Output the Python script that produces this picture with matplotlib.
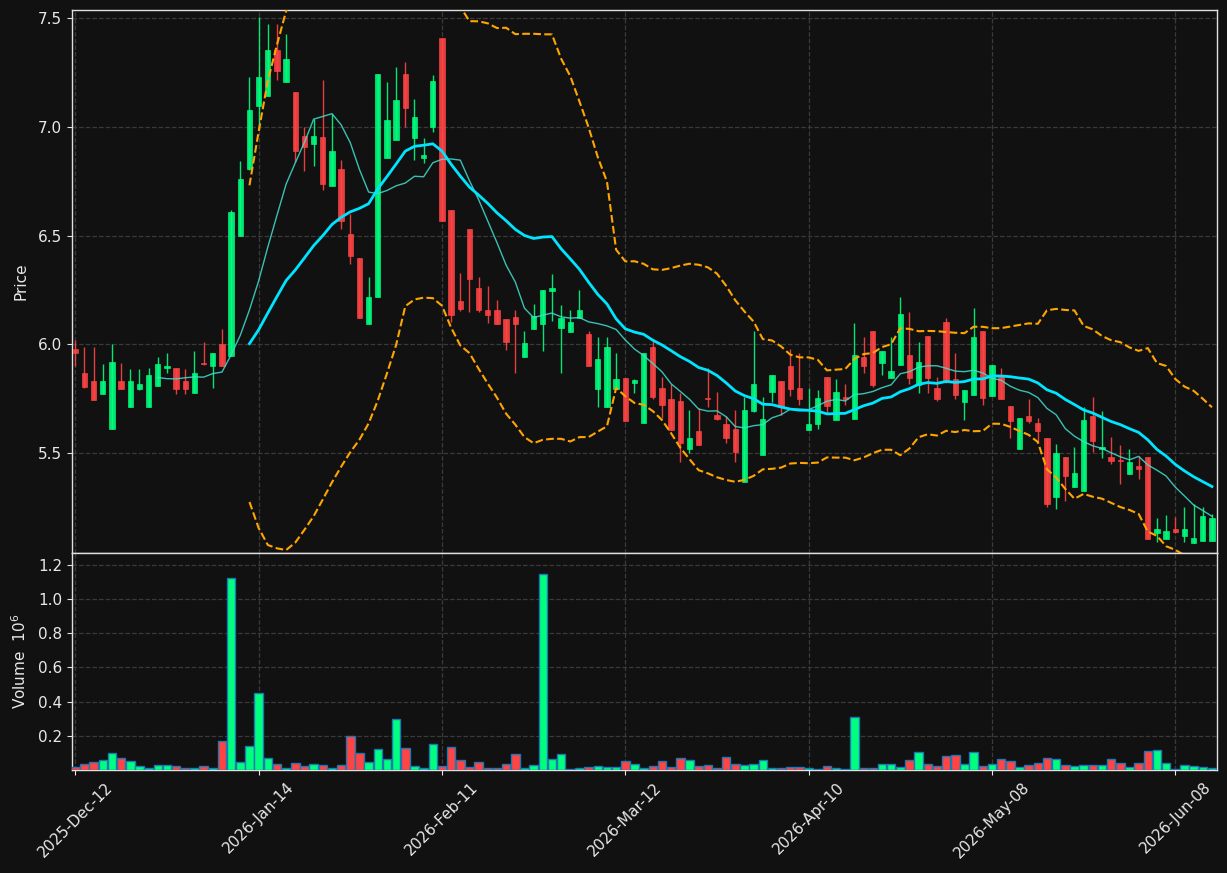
import numpy as np
import pandas as pd
import matplotlib
matplotlib.use("Agg")
import matplotlib.pyplot as plt

# ---------------- data ----------------
start_date = "2025-12-12"
holidays = ["2025-12-25", "2025-12-26", "2026-01-01", "2026-02-16", "2026-04-03", "2026-05-25"]

opens = [5.980, 5.870, 5.831, 5.769, 5.609, 5.831, 5.710, 5.796, 5.710, 5.806,
         5.889, 5.892, 5.831, 5.778, 5.912, 5.898, 6.002, 5.948, 6.497, 6.804,
         7.095, 7.143, 7.351, 7.204, 7.158, 6.959, 6.922, 6.951, 6.727, 6.807,
         6.508, 6.398, 6.095, 6.215, 6.855, 6.938, 7.241, 6.950, 6.855, 6.998,
         7.410, 6.618, 6.199, 6.532, 6.260, 6.159, 6.159, 6.116, 6.126, 5.943,
         6.070, 6.094, 6.247, 6.076, 6.058, 6.119, 6.049, 5.796, 5.710, 5.796,
         5.844, 5.823, 5.636, 5.988, 5.799, 5.748, 5.740, 5.516, 5.602, 5.751,
         5.674, 5.631, 5.610, 5.367, 5.695, 5.490, 5.780, 5.831, 5.898, 5.799,
         5.607, 5.634, 5.850, 5.650, 5.759, 5.658, 5.943, 6.063, 5.914, 5.844,
         5.906, 5.951, 5.812, 6.039, 5.799, 6.100, 5.841, 5.735, 5.767, 6.063,
         5.762, 5.850, 5.714, 5.516, 5.671, 5.639, 5.570, 5.298, 5.482, 5.343,
         5.327, 5.671, 5.516, 5.482, 5.468, 5.404, 5.442, 5.482, 5.130, 5.106,
         5.151, 5.116, 5.088, 5.095, 5.095]
highs = [6.018, 5.986, 5.986, 5.908, 5.999, 5.916, 5.886, 5.886, 5.890, 5.942,
         5.959, 5.892, 5.886, 5.970, 6.010, 5.961, 6.071, 6.618, 6.841, 7.231,
         7.506, 7.471, 7.471, 7.426, 7.158, 7.000, 7.034, 7.215, 7.058, 6.847,
         6.599, 6.398, 6.310, 7.241, 7.207, 7.276, 7.298, 7.127, 6.948, 7.239,
         7.410, 6.618, 6.327, 6.532, 6.308, 6.268, 6.202, 6.116, 6.158, 6.060,
         6.185, 6.250, 6.324, 6.180, 6.159, 6.250, 6.063, 6.034, 6.034, 5.962,
         5.844, 5.842, 5.961, 6.024, 5.850, 5.815, 5.778, 5.698, 5.706, 5.892,
         5.780, 5.671, 5.698, 5.759, 6.063, 5.759, 5.860, 5.831, 5.980, 5.962,
         5.799, 5.789, 5.850, 5.842, 5.818, 6.098, 6.034, 6.063, 5.970, 6.034,
         6.218, 6.150, 6.012, 6.039, 5.850, 6.122, 5.962, 5.789, 6.167, 6.063,
         5.903, 5.892, 5.714, 5.663, 5.748, 5.660, 5.570, 5.543, 5.482, 5.527,
         5.711, 5.756, 5.695, 5.575, 5.538, 5.516, 5.484, 5.482, 5.199, 5.215,
         5.207, 5.250, 5.266, 5.250, 5.218]
lows = [5.900, 5.798, 5.742, 5.769, 5.609, 5.796, 5.710, 5.788, 5.710, 5.806,
        5.866, 5.770, 5.770, 5.778, 5.906, 5.798, 5.898, 5.948, 6.497, 6.800,
        6.983, 7.143, 7.215, 7.204, 6.839, 6.796, 6.818, 6.708, 6.727, 6.530,
        6.367, 6.119, 6.095, 6.215, 6.855, 6.938, 7.000, 6.847, 6.834, 6.975,
        6.566, 6.103, 6.154, 6.148, 6.148, 6.098, 6.094, 5.975, 5.866, 5.943,
        6.070, 5.970, 6.106, 5.866, 6.058, 6.119, 5.898, 5.710, 5.710, 5.796,
        5.647, 5.778, 5.636, 5.748, 5.660, 5.607, 5.458, 5.500, 5.538, 5.711,
        5.650, 5.548, 5.460, 5.367, 5.687, 5.490, 5.735, 5.676, 5.762, 5.722,
        5.607, 5.610, 5.686, 5.650, 5.722, 5.658, 5.866, 5.804, 5.858, 5.844,
        5.906, 5.815, 5.778, 5.774, 5.738, 5.823, 5.748, 5.650, 5.767, 5.722,
        5.762, 5.746, 5.570, 5.516, 5.639, 5.551, 5.250, 5.242, 5.279, 5.343,
        5.327, 5.506, 5.479, 5.447, 5.359, 5.404, 5.382, 5.106, 5.090, 5.106,
        5.130, 5.090, 5.088, 5.095, 5.095]
closes = [5.958, 5.804, 5.745, 5.831, 5.919, 5.796, 5.831, 5.818, 5.860, 5.910,
          5.902, 5.796, 5.796, 5.870, 5.908, 5.961, 5.898, 6.610, 6.762, 7.079,
          7.231, 7.351, 7.255, 7.310, 6.887, 6.906, 6.959, 6.735, 6.890, 6.566,
          6.407, 6.119, 6.218, 7.241, 7.030, 7.121, 7.086, 7.046, 6.868, 7.209,
          6.566, 6.135, 6.164, 6.298, 6.157, 6.135, 6.094, 6.010, 6.094, 6.006,
          6.130, 6.250, 6.260, 6.122, 6.100, 6.159, 5.898, 5.930, 5.988, 5.841,
          5.647, 5.834, 5.961, 5.756, 5.719, 5.607, 5.548, 5.569, 5.538, 5.746,
          5.658, 5.567, 5.506, 5.698, 5.818, 5.655, 5.860, 5.711, 5.796, 5.746,
          5.631, 5.751, 5.714, 5.780, 5.748, 5.951, 5.898, 5.812, 5.970, 5.879,
          6.140, 5.847, 5.919, 5.847, 5.746, 5.836, 5.767, 5.789, 6.034, 5.754,
          5.903, 5.746, 5.647, 5.663, 5.647, 5.599, 5.266, 5.500, 5.394, 5.407,
          5.650, 5.556, 5.527, 5.463, 5.463, 5.458, 5.426, 5.106, 5.151, 5.140,
          5.138, 5.151, 5.110, 5.210, 5.199]
volume_millions = [0.019, 0.037, 0.048, 0.060, 0.101, 0.072, 0.052, 0.025, 0.014, 0.031,
                   0.031, 0.025, 0.014, 0.014, 0.025, 0.014, 0.171, 1.124, 0.048, 0.141,
                   0.450, 0.072, 0.037, 0.014, 0.043, 0.025, 0.037, 0.031, 0.014, 0.031,
                   0.200, 0.101, 0.048, 0.124, 0.066, 0.298, 0.130, 0.025, 0.014, 0.153,
                   0.025, 0.136, 0.060, 0.019, 0.048, 0.014, 0.014, 0.037, 0.095, 0.014,
                   0.031, 1.147, 0.066, 0.095, 0.008, 0.014, 0.019, 0.025, 0.019, 0.019,
                   0.054, 0.037, 0.014, 0.025, 0.054, 0.019, 0.072, 0.060, 0.025, 0.031,
                   0.014, 0.078, 0.037, 0.031, 0.037, 0.060, 0.014, 0.014, 0.019, 0.019,
                   0.014, 0.008, 0.025, 0.014, 0.008, 0.310, 0.014, 0.014, 0.037, 0.037,
                   0.019, 0.060, 0.107, 0.037, 0.025, 0.083, 0.089, 0.037, 0.107, 0.025,
                   0.037, 0.066, 0.054, 0.019, 0.031, 0.043, 0.072, 0.066, 0.031, 0.025,
                   0.031, 0.031, 0.031, 0.066, 0.043, 0.019, 0.043, 0.112, 0.118, 0.043,
                   0.008, 0.031, 0.025, 0.019, 0.014]

price_ticks = [5.5, 6.0, 6.5, 7.0, 7.5]
volume_ticks = [0.2, 0.4, 0.6, 0.8, 1.0, 1.2]
date_tick_step = 20

# ---------------- derived ----------------
n = len(closes)
assert len(opens) == n and len(highs) == n and len(lows) == n and len(volume_millions) == n
dates = pd.bdate_range(start=start_date, periods=n, freq="C", holidays=holidays)
x = np.arange(n)
o = np.array(opens); h = np.array(highs); l = np.array(lows); c = np.array(closes)
vol = np.array(volume_millions)
up = c >= o

close_s = pd.Series(c)
sma10 = close_s.rolling(10).mean()
sma20 = close_s.rolling(20).mean()
std20 = close_s.rolling(20).std()
bb_up = sma20 + 2 * std20
bb_lo = sma20 - 2 * std20

# ---------------- style ----------------
BG = "#111111"
UP = "#00ff7f"
DOWN = "#ff4444"
TXT = "#e8e8e8"
GRID = "#3a3a3a"
SPINE = "#e0e0e0"

fig = plt.figure(figsize=(12.27, 8.73), dpi=100, facecolor=BG)
L, R = 72 / 1227, 1217 / 1227
top1, bot1 = 1 - 10 / 873, 1 - 553 / 873
bot2 = 1 - 770 / 873
ax = fig.add_axes([L, bot1, R - L, top1 - bot1], facecolor=BG)
axv = fig.add_axes([L, bot2, R - L, bot1 - bot2], facecolor=BG, sharex=ax)

colors = np.where(up, UP, DOWN)

# candles
ax.vlines(x, l, h, colors=colors, linewidth=1.0, alpha=0.9, zorder=3)
body_bottom = np.minimum(o, c)
body_h = np.maximum(np.abs(c - o), 0.004)
ax.bar(x, body_h, bottom=body_bottom, width=0.58, color=colors, edgecolor=colors,
       linewidth=0.5, alpha=0.9, zorder=4)

# moving averages and bands
ax.plot(x, sma10, color="#40e0d0", linewidth=1.0, alpha=0.85, zorder=5)
ax.plot(x, sma20, color="#00e5ff", linewidth=2.0, zorder=5)
ax.plot(x, bb_up, color="#ffa500", linewidth=1.5, linestyle="--", zorder=5)
ax.plot(x, bb_lo, color="#ffa500", linewidth=1.5, linestyle="--", zorder=5)

# volume
axv.bar(x, vol, width=0.92, color=colors, edgecolor="#1f77b4", linewidth=1.0, zorder=3)

# axes formatting
ax.set_xlim(-0.36, n - 0.45)
ax.set_ylim(5.040, 7.537)
axv.set_ylim(0.0, 1.27)
ax.set_yticks(price_ticks)
ax.set_yticklabels([f"{t:.1f}" for t in price_ticks])
axv.set_yticks(volume_ticks)
axv.set_yticklabels([f"{t:.1f}" for t in volume_ticks])

tick_idx = list(range(0, n, date_tick_step))
axv.set_xticks(tick_idx)
axv.set_xticklabels([dates[i].strftime("%Y-%b-%d") for i in tick_idx], rotation=45, ha="center")
plt.setp(ax.get_xticklabels(), visible=False)
ax.tick_params(axis="x", length=0)

for a in (ax, axv):
    a.grid(True, color=GRID, linestyle="--", linewidth=0.9)
    a.set_axisbelow(True)
    for s in a.spines.values():
        s.set_color(SPINE)
        s.set_linewidth(1.0)
    a.tick_params(colors=TXT, labelsize=11, direction="out")
    a.tick_params(axis="y", color=SPINE)

ax.set_ylabel("Price", color=TXT, fontsize=11)
axv.set_ylabel("Volume  $10^6$", color=TXT, fontsize=11)
ax.yaxis.set_label_coords(-0.0376, 0.5)
axv.yaxis.set_label_coords(-0.0376, 0.5)

fig.savefig("out.png", dpi=100, facecolor=BG)
